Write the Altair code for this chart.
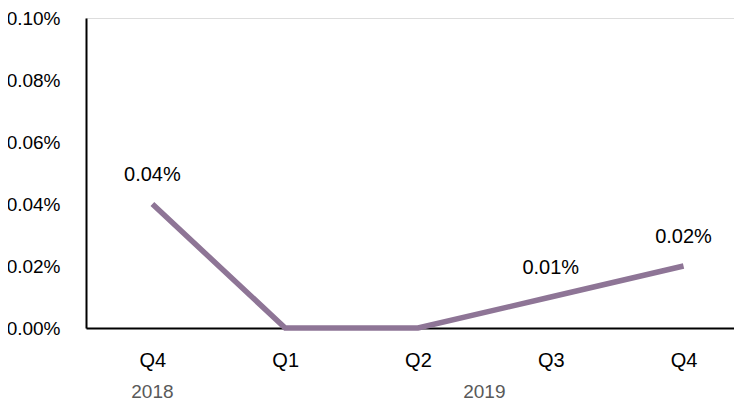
import altair as alt
import pandas as pd

quarters = ["Q4", "Q1", "Q2", "Q3", "Q4"]
positions = [0, 1, 2, 3, 4]
values = [0.0004, 0.0, 0.0, 0.0001, 0.0002]
point_labels = ["0.04%", "", "", "0.01%", "0.02%"]
years = ["2018", "2019"]
year_pos = [0, 2.5]

FONT = "Liberation Sans, Arial"
W, H = 648, 310

df = pd.DataFrame({"pos": positions, "q": quarters, "v": values, "lab": point_labels})
ydf = pd.DataFrame({"pos": year_pos, "year": years})

label_expr = "[" + ",".join(f"'{q}'" for q in quarters) + "][datum.value]"

xscale = alt.Scale(domain=[-0.5, 4.38], nice=False, zero=False)
yscale = alt.Scale(domain=[0, 0.001], nice=False)

line = alt.Chart(df).mark_line(color="#8E7596", strokeWidth=5.5, strokeCap="butt", strokeJoin="miter").encode(
    x=alt.X("pos:Q", scale=xscale, axis=alt.Axis(
        values=positions, labelExpr=label_expr, title=None, grid=False, ticks=False,
        domainColor="#000000", domainWidth=2, labelFont=FONT, labelFontSize=20,
        labelColor="#000000", labelPadding=22, labelBaseline="top")),
    y=alt.Y("v:Q", scale=yscale, axis=alt.Axis(
        values=[0, 0.0002, 0.0004, 0.0006, 0.0008, 0.001], format=".2%", title=None,
        grid=False, ticks=False, domainColor="#000000", domainWidth=2,
        labelFont=FONT, labelFontSize=19, labelColor="#000000", labelPadding=26)),
)

texts = alt.Chart(df).mark_text(font=FONT, fontSize=20, color="#000000", baseline="bottom", dy=-19).encode(
    x=alt.X("pos:Q", scale=xscale),
    y=alt.Y("v:Q", scale=yscale),
    text="lab:N",
)

year_text = alt.Chart(ydf).mark_text(font=FONT, fontSize=19, color="#595959", baseline="top").encode(
    x=alt.X("pos:Q", scale=xscale),
    y=alt.value(H + 55),
    text="year:N",
)

chart = alt.layer(line, texts, year_text).properties(
    width=W, height=H,
    autosize=alt.AutoSizeParams(type="none"),
    padding={"left": 78, "top": 10, "right": 0, "bottom": 73},
).configure_view(stroke="transparent", strokeWidth=0).configure(background="#ffffff")

chart.save("out.html", embed_options={"renderer": "svg", "actions": False})
